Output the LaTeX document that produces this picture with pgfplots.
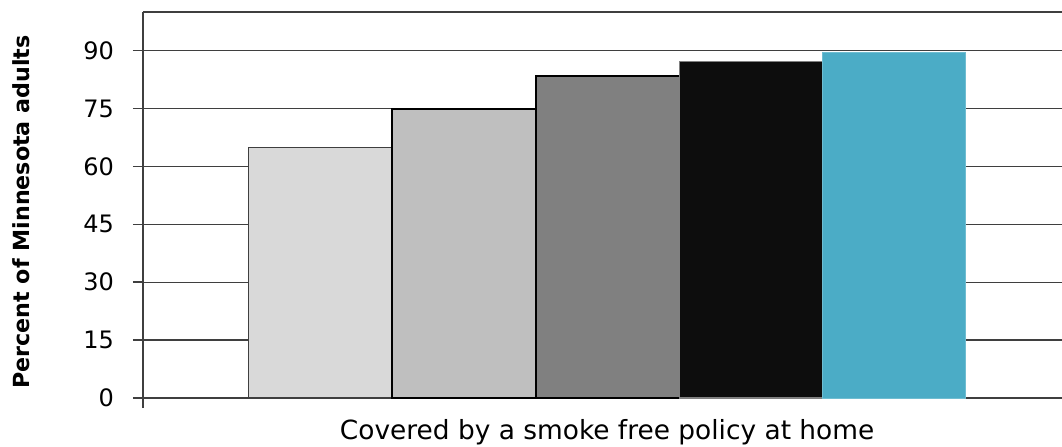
\documentclass[border=0pt]{standalone}
\usepackage{pgfplots}
\pgfplotsset{compat=1.18}
\usepackage{fontspec}
\setmainfont{DejaVu Sans}
\definecolor{c1}{HTML}{D9D9D9}
\definecolor{c2}{HTML}{BFBFBF}
\definecolor{c3}{HTML}{808080}
\definecolor{c4}{HTML}{0D0D0D}
\definecolor{c5}{HTML}{4BACC6}
\definecolor{gridc}{HTML}{3F3F3F}
\begin{document}
\begin{tikzpicture}[x=0.5pt,y=0.5pt]
\begin{axis}[
  at={(71.5pt,24pt)}, anchor=south west,
  scale only axis,
  width=478.5pt, height=193pt,
  xmin=143, xmax=1100,
  ymin=0, ymax=100,
  ytick={0,15,30,45,60,75,90},
  xtick={143}, xticklabels={},
  ymajorgrids,
  grid style={gridc, line width=0.7pt, shorten <=-5pt},
  major tick length=5pt,
  xtick align=outside, ytick align=outside,
  every tick/.style={draw=gridc, line width=0.8pt},
  axis line style={line width=0.8pt},
  separate axis lines,
  x axis line style={gridc},
  y axis line style={gridc},
  xtick pos=bottom, ytick pos=left,
  /pgf/number format/assume math mode=true,
  yticklabel style={font=\fontsize{12}{14}\selectfont, text=black, xshift=-6pt},
  xlabel={Covered by a smoke free policy at home},
  xlabel style={font=\fontsize{13.2}{15}\selectfont, at={(axis description cs:0.485,0)}, anchor=north, yshift=-7pt},
  ylabel={Percent of Minnesota adults},
  every axis y label/.style={at={(axis description cs:-0.127,0.482)}, rotate=90, anchor=center, font=\bfseries\fontsize{11.1}{13}\selectfont},
  bar width=143.4,
  clip=false,
]
\addplot[ybar, fill=c1, draw=gridc, line width=0.6pt] coordinates {(320,65)};
\addplot[ybar, fill=c2, draw=black, line width=0.9pt] coordinates {(464,74.8)};
\addplot[ybar, fill=c3, draw=black, line width=0.9pt] coordinates {(608,83.5)};
\addplot[ybar, fill=c4, draw=c3, line width=0.6pt] coordinates {(751.5,87.1)};
\addplot[ybar, fill=c5, draw=c5!80!white, line width=0.5pt] coordinates {(894,89.5)};
\end{axis}
\pgfresetboundingbox
\useasboundingbox (0,0) rectangle (1062,446);
\end{tikzpicture}
\end{document}
